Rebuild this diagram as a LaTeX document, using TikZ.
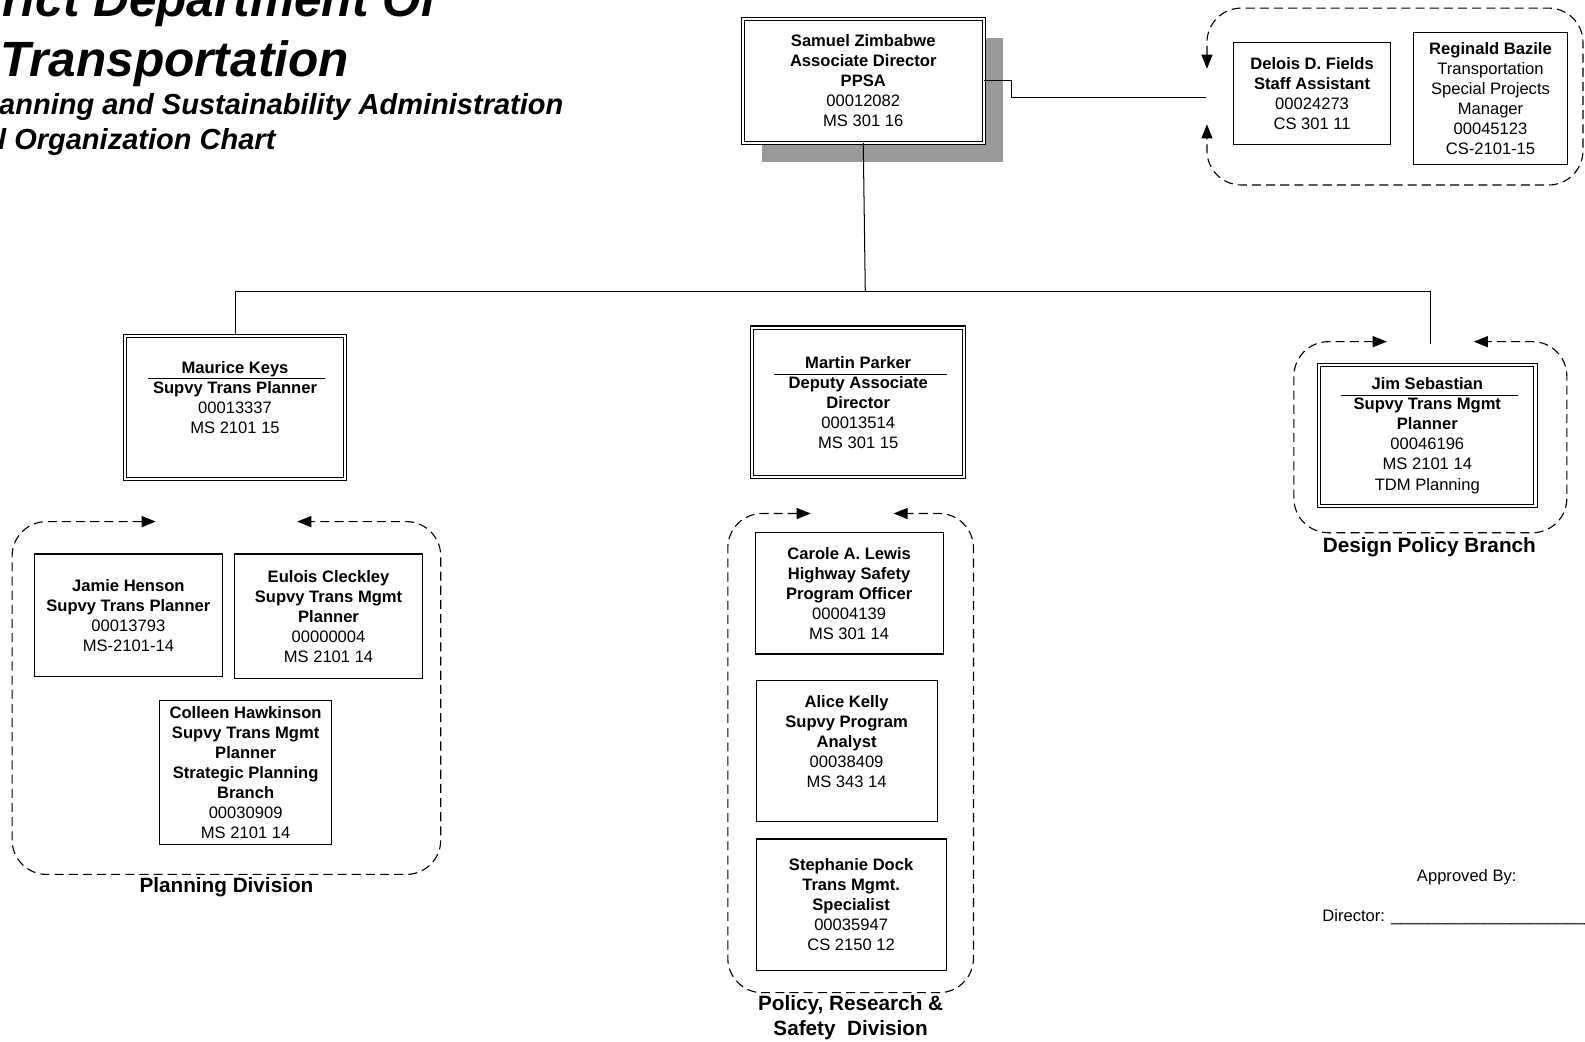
\documentclass[tikz,border=0pt]{standalone}
\usepackage{fontspec}
\setmainfont{Liberation Sans}
\usetikzlibrary{arrows.meta,shapes,positioning,shadows}
\newcommand{\bodyfont}{\fontsize{16.4}{19.8}\selectfont}
\newcommand{\labelfont}{\fontsize{20.5}{25}\selectfont\bfseries}

\begin{document}
\begin{tikzpicture}[x=1pt,y=-1pt,
  post/.style={draw,line width=1.1pt,fill=white,align=center,font=\bodyfont,inner sep=0pt},
  head/.style={post,double,double distance=2pt,line width=1pt},
  link/.style={line width=1pt},
  group/.style={line width=1.1pt,dash pattern=on 9pt off 5pt,rounded corners=34pt,
    >={Triangle[length=14pt,width=11pt]},<->},
  glabel/.style={align=center,font=\labelfont,inner sep=0pt},
  title/.style={anchor=base west,inner sep=0pt}]
\useasboundingbox (0,0) rectangle (1568,1030);

\node [title,anchor=base east,font=\fontsize{49}{56}\selectfont\bfseries\itshape] (t1) at (433,16) {rict Department Of};
\node [title,font=\fontsize{49}{56}\selectfont\bfseries\itshape] (t2) at (0,76) {Transportation};
\node [title,font=\fontsize{28.7}{34}\selectfont\bfseries\itshape] (t3) at (-1,113) {anning and Sustainability Administration};
\node [title,font=\fontsize{28.7}{34}\selectfont\bfseries\itshape] (t4) at (-2,148) {l Organization Chart};

\node [head,minimum width=238,minimum height=122,
  drop shadow={shadow xshift=19pt,shadow yshift=-19pt,fill=black!40,opacity=1}] (zim) at (854,80)
  {\textbf{Samuel Zimbabwe}\\\textbf{Associate Director}\\\textbf{PPSA}\\00012082\\MS 301 16};

\node [post,minimum width=156,minimum height=101] (fields) at (1298,92.5)
  {\textbf{Delois D. Fields}\\\textbf{Staff Assistant}\\00024273\\CS 301 11};
\node [post,minimum width=153,minimum height=131] (bazile) at (1474.5,97.5)
  {\textbf{Reginald Bazile}\\Transportation\\Special Projects\\Manager\\00045123\\CS-2101-15};
\coordinate (feed) at (1193,96);
\draw [group] (1194,68) -- (1194,8) -- (1566,8) -- (1566,183) -- (1194,183) -- (1194,123);
\draw [link] (zim.east) -- ++(27,0) |- (feed);

\coordinate (hub) at (856,288);
\coordinate (jimtop) at (1415,340);
\node [head,minimum width=217,minimum height=142] (keys) at (232.5,403)
  {\textbf{Maurice Keys}\\\textbf{Supvy Trans Planner}\\00013337\\MS 2101 15\\\mbox{}};
\node [head,minimum width=210,minimum height=148] (parker) at (849,398)
  {\textbf{Martin Parker}\\\textbf{Deputy Associate}\\\textbf{Director}\\00013514\\MS 301 15};
\node [head,minimum width=214,minimum height=140] (sebastian) at (1412,431)
  {\textbf{Jim Sebastian}\\\textbf{Supvy Trans Mgmt}\\\textbf{Planner}\\00046196\\MS 2101 14\\TDM Planning};
\draw [link] (zim.south) -- (hub);
\draw [link] (keys.north) |- (hub) -| (jimtop);
\draw ([shift={(23,43)}]keys.north west) -- ++(175,0);
\draw ([shift={(22,47)}]parker.north west) -- ++(171,0);
\draw ([shift={(22,30)}]sebastian.north west) -- ++(175,0);

\node [post,minimum width=186,minimum height=121] (henson) at (127,608.5)
  {\textbf{Jamie Henson}\\\textbf{Supvy Trans Planner}\\00013793\\MS-2101-14};
\node [post,minimum width=186,minimum height=123] (cleckley) at (325,609.5)
  {\textbf{Eulois Cleckley}\\\textbf{Supvy Trans Mgmt}\\\textbf{Planner}\\00000004\\MS 2101 14};
\node [post,minimum width=170,minimum height=142] (hawkinson) at (243,764)
  {\textbf{Colleen Hawkinson}\\\textbf{Supvy Trans Mgmt}\\\textbf{Planner}\\\textbf{Strategic Planning}\\\textbf{Branch}\\00030909\\MS 2101 14};
\draw [group] (154,516) -- (12,516) -- (12,865) -- (436,865) -- (436,516) -- (294,516);
\node [glabel] (plan) at (224,878) {Planning Division};

\node [post,minimum width=186,minimum height=120] (lewis) at (840,587)
  {\textbf{Carole A. Lewis}\\\textbf{Highway Safety}\\\textbf{Program Officer}\\00004139\\MS 301 14};
\node [post,minimum width=179,minimum height=140] (kelly) at (837.5,743)
  {\textbf{Alice Kelly}\\\textbf{Supvy Program}\\\textbf{Analyst}\\00038409\\MS 343 14\\\mbox{}};
\node [post,minimum width=188,minimum height=130] (dock) at (842,895)
  {\textbf{Stephanie Dock}\\\textbf{Trans Mgmt.}\\\textbf{Specialist}\\00035947\\CS 2150 12};
\draw [group] (802,508) -- (720,508) -- (720,982) -- (963,982) -- (963,508) -- (884,508);
\node [glabel] (policy) at (841.5,1006.5) {Policy, Research \&\\Safety~ Division};

\draw [group] (1372,338) -- (1280,338) -- (1280,527) -- (1550,527) -- (1550,338) -- (1458,338);
\node [glabel] (design) at (1414,541) {Design Policy Branch};

\node [font=\bodyfont,inner sep=0pt] (appr) at (1451,868) {Approved By:};
\node [font=\bodyfont,inner sep=0pt,anchor=west] (dir) at (1308,907)
  {Director: \_\_\_\_\_\_\_\_\_\_\_\_\_\_\_\_\_\_\_\_\_\_};
\end{tikzpicture}
\end{document}
